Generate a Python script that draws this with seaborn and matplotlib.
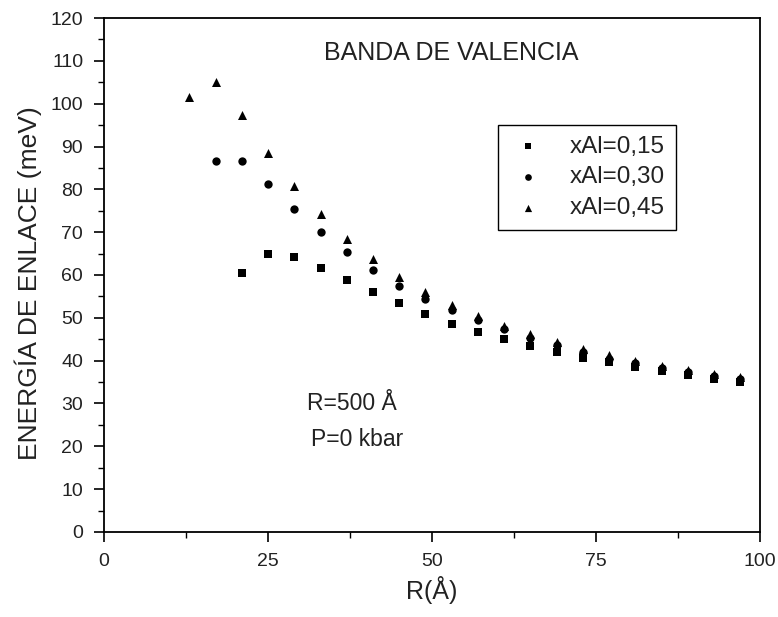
import matplotlib
matplotlib.use("Agg")
import matplotlib.pyplot as plt
from matplotlib.ticker import MultipleLocator
import pandas as pd
import seaborn as sns

# Radios del pozo (Å)
r_015 = [21, 25, 29, 33, 37, 41, 45, 49, 53, 57, 61, 65, 69, 73, 77, 81, 85, 89, 93, 97]
r_030 = [17, 21, 25, 29, 33, 37, 41, 45, 49, 53, 57, 61, 65, 69, 73, 77, 81, 85, 89, 93, 97]
r_045 = [13, 17, 21, 25, 29, 33, 37, 41, 45, 49, 53, 57, 61, 65, 69, 73, 77, 81, 85, 89, 93, 97]

# Energía de enlace (meV)
e_015 = [60.4, 64.9, 64.1, 61.7, 58.8, 56.0, 53.4, 50.8, 48.6, 46.7, 45.0, 43.4,
         42.0, 40.6, 39.6, 38.5, 37.5, 36.7, 35.8, 35.1]
e_030 = [86.5, 86.5, 81.3, 75.5, 70.1, 65.3, 61.2, 57.5, 54.4, 51.8, 49.6, 47.4,
         45.4, 43.7, 42.0, 40.5, 39.4, 38.3, 37.3, 36.4, 35.7]
e_045 = [101.5, 105.1, 97.4, 88.6, 80.8, 74.2, 68.5, 63.7, 59.6, 56.1, 53.0, 50.4,
         48.1, 46.2, 44.3, 42.7, 41.3, 40.0, 38.8, 37.8, 36.9, 36.1]

labels = ["xAl=0,15", "xAl=0,30", "xAl=0,45"]

df = pd.concat([
    pd.DataFrame({"R": r_015, "E": e_015, "serie": labels[0]}),
    pd.DataFrame({"R": r_030, "E": e_030, "serie": labels[1]}),
    pd.DataFrame({"R": r_045, "E": e_045, "serie": labels[2]}),
])

sns.set_theme(style="ticks")
plt.rcParams["font.family"] = ["Liberation Sans", "DejaVu Sans"]
txt = "#222222"

fig = plt.figure(figsize=(7.78, 6.17), dpi=100)
ax = fig.add_axes([0.1337, 0.1378, 0.8432, 0.833])

markers = {labels[0]: "s", labels[1]: "o", labels[2]: "^"}
sizes = {labels[0]: 30, labels[1]: 36, labels[2]: 42}
for lab in labels:
    sub = df[df["serie"] == lab]
    sns.scatterplot(data=sub, x="R", y="E", marker=markers[lab], s=sizes[lab],
                    color="black", edgecolor="black", linewidth=0, label=lab, ax=ax)

ax.set_xlim(0, 100)
ax.set_ylim(0, 120)
ax.xaxis.set_major_locator(MultipleLocator(25))
ax.xaxis.set_minor_locator(MultipleLocator(12.5))
ax.yaxis.set_major_locator(MultipleLocator(10))
ax.yaxis.set_minor_locator(MultipleLocator(5))
ax.tick_params(which="major", direction="out", length=7, width=1.2, labelsize=14,
               color="black", labelcolor=txt, pad=8)
ax.tick_params(which="minor", direction="out", length=4, width=1.0, color="black")
for sp in ax.spines.values():
    sp.set_visible(True)
    sp.set_linewidth(1.3)
    sp.set_color("black")

ax.set_xlabel("R(Å)", fontsize=18, color=txt)
ax.set_ylabel("ENERGÍA DE ENLACE (meV)", fontsize=19, color=txt)
ax.xaxis.set_label_coords(0.5, -0.085)
ax.yaxis.set_label_coords(-0.095, 0.485)

ax.text(53.0, 111.8, "BANDA DE VALENCIA", fontsize=18, ha="center", va="center", color=txt)
ax.text(31, 30.0, "R=500 Å", fontsize=16.5, ha="left", va="center", color=txt)
ax.text(31.5, 21.5, "P=0 kbar", fontsize=16.5, ha="left", va="center", color=txt)

leg = ax.legend(loc="upper left", bbox_to_anchor=(0.6006, 0.792), borderaxespad=0,
                fontsize=17.5, frameon=True, fancybox=False, edgecolor="black",
                framealpha=1, handletextpad=0.9, borderpad=0.45, labelspacing=0.35,
                markerscale=0.8, handlelength=1.6)
leg.get_frame().set_linewidth(1.0)
for t in leg.get_texts():
    t.set_color(txt)

fig.savefig("out.png", dpi=100)
